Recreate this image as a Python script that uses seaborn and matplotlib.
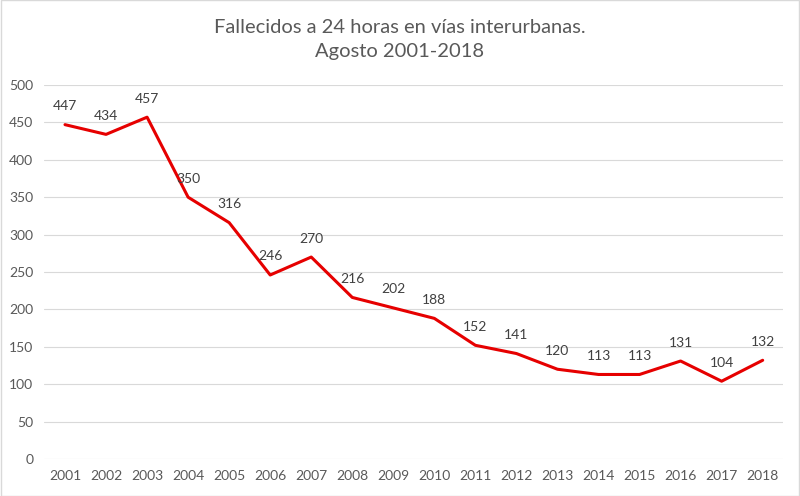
import matplotlib as mpl
import matplotlib.pyplot as plt
import seaborn as sns
import pandas as pd

years = [str(y) for y in range(2001, 2019)]
deaths = [447, 434, 457, 350, 316, 246, 270, 216, 202, 188,
          152, 141, 120, 113, 113, 131, 104, 132]

sns.set_style('white')
plt.rcParams['font.family'] = ['Lato', 'DejaVu Sans']

GREY = '#595959'

data = pd.DataFrame({'year': years, 'deaths': deaths})

fig = plt.figure(figsize=(8, 4.96), dpi=100)
ax = fig.add_axes([0.0556, 0.0746, 0.9234, 0.754])
sns.lineplot(x='year', y='deaths', data=data, color='#e60000',
             linewidth=2.2, ax=ax, sort=False)

for i, v in enumerate(deaths):
    ax.annotate(str(v), (i, v), xytext=(0, 9), textcoords='offset points',
                ha='center', va='bottom', fontsize=10, color='#404040')

ax.set_xlim(-0.5, len(years) - 0.5)
ax.set_ylim(0, 500)
ax.set_yticks(range(0, 501, 50))
ax.yaxis.grid(True, color='#d9d9d9', linewidth=0.8)
ax.set_axisbelow(True)
for s in ax.spines.values():
    s.set_visible(False)
ax.tick_params(axis='both', length=0, labelsize=10, colors=GREY, pad=8)
ax.set_xlabel('')
ax.set_ylabel('')

fig.text(0.5, 0.962, 'Fallecidos a 24 horas en vías interurbanas.\nAgosto 2001-2018',
         ha='center', va='top', fontsize=14.5, color=GREY, linespacing=1.5)

fig.patches.append(mpl.patches.Rectangle((0.001, 0.001), 0.998, 0.998,
                                         transform=fig.transFigure, fill=False,
                                         edgecolor='#d9d9d9', linewidth=1))
fig.savefig('out.png', dpi=100)
